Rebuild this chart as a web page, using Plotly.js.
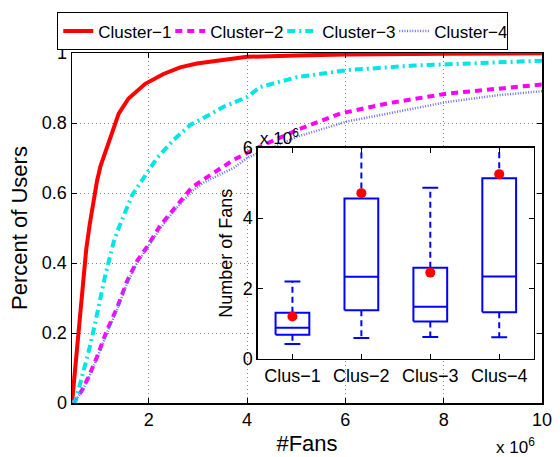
<!DOCTYPE html>
<html>
<head>
<meta charset="utf-8">
<script src="https://cdn.plot.ly/plotly-3.0.1.min.js"></script>
<style>html,body{margin:0;padding:0;background:#fff}#chart{width:560px;height:457px}</style>
</head>
<body>
<div id="chart"></div>
<script>
// ---------- Data (x in units of 10^6 fans) ----------
var seriesNames = ["Cluster\u22121", "Cluster\u22122", "Cluster\u22123", "Cluster\u22124"];

var c1x = [0.44, 0.49, 0.56, 0.65, 0.73, 0.80, 0.88, 0.95, 1.02, 1.19, 1.39, 1.59, 1.93, 2.3, 2.64, 2.98, 3.4, 3.73, 4.0, 5.0, 6.0, 8.0, 10.0];
var c1y = [0, 0.075, 0.21, 0.33, 0.44, 0.51, 0.58, 0.635, 0.677, 0.743, 0.827, 0.87, 0.912, 0.94, 0.959, 0.97, 0.978, 0.985, 0.989, 0.993, 0.996, 0.998, 0.999];

var c2x = [0.44, 0.49, 0.65, 0.78, 0.95, 1.15, 1.36, 1.56, 1.76, 1.97, 2.24, 2.51, 2.88, 3.12, 3.73, 4.27, 5.02, 5.9, 6.85, 8.07, 9.08, 10];
var c2y = [0, 0.005, 0.038, 0.075, 0.132, 0.207, 0.273, 0.348, 0.405, 0.447, 0.508, 0.555, 0.616, 0.639, 0.695, 0.733, 0.78, 0.827, 0.856, 0.884, 0.898, 0.91];

var c3x = [0.44, 0.51, 0.68, 0.82, 0.95, 1.12, 1.29, 1.39, 1.66, 1.97, 2.17, 2.51, 2.85, 3.05, 3.52, 4.0, 4.27, 5.02, 6.03, 7.39, 8.74, 10];
var c3y = [0, 0.005, 0.094, 0.17, 0.254, 0.367, 0.461, 0.50, 0.593, 0.658, 0.70, 0.752, 0.795, 0.809, 0.846, 0.874, 0.903, 0.931, 0.951, 0.964, 0.970, 0.978];

var c4x = [0.44, 0.49, 0.65, 0.78, 0.95, 1.15, 1.36, 1.56, 1.76, 1.97, 2.24, 2.51, 2.88, 3.12, 3.73, 4.0, 5.02, 6.03, 7.05, 8.07, 9.08, 10];
var c4y = [0, 0.004, 0.035, 0.072, 0.128, 0.2, 0.268, 0.342, 0.4, 0.442, 0.5, 0.548, 0.605, 0.63, 0.672, 0.70, 0.761, 0.804, 0.832, 0.86, 0.879, 0.891];

// Inset box plot (units of 10^6 fans)
var boxLabels = ["Clus\u22121", "Clus\u22122", "Clus\u22123", "Clus\u22124"];
var boxLower  = [0.42, 0.59, 0.62, 0.61];
var boxQ1     = [0.68, 1.38, 1.06, 1.32];
var boxMedian = [0.88, 2.33, 1.48, 2.34];
var boxQ3     = [1.31, 4.56, 2.59, 5.13];
var boxUpper  = [2.20, 7.5, 4.86, 7.5];
var boxMean   = [1.20, 4.71, 2.45, 5.25];

// ---------- Build ----------
var FONT = "Liberation Sans, Arial, Helvetica, sans-serif";
var styles = [
  {color: "#ff0000", width: 4, dash: "solid"},
  {color: "#ff00ff", width: 4, dash: "7px,5px"},
  {color: "#00e5e5", width: 4, dash: "8px,4px,2px,4px"},
  {color: "#6b6bff", width: 2.5, dash: "1px,1.6px"}
];
var xs = [c1x, c2x, c3x, c4x], ys = [c1y, c2y, c3y, c4y];
var traces = [];
for (var k = 0; k < 4; k++) {
  traces.push({type: "scatter", mode: "lines", x: xs[k], y: ys[k], name: seriesNames[k],
    line: styles[k], xaxis: "x", yaxis: "y", cliponaxis: true});
}

var halfW = 0.245, capW = 0.115;
var bx = [], by = [], wx = [], wy = [], cx = [], cy = [], pos = [];
for (var i = 0; i < boxLabels.length; i++) {
  var p = i + 1; pos.push(p);
  bx.push(p - halfW, p + halfW, p + halfW, p - halfW, p - halfW, null, p - halfW, p + halfW, null);
  by.push(boxQ1[i], boxQ1[i], boxQ3[i], boxQ3[i], boxQ1[i], null, boxMedian[i], boxMedian[i], null);
  wx.push(p, p, null, p, p, null);
  wy.push(boxQ3[i], boxUpper[i], null, boxQ1[i], boxLower[i], null);
  cx.push(p - capW, p + capW, null, p - capW, p + capW, null);
  cy.push(boxLower[i], boxLower[i], null, boxUpper[i], boxUpper[i], null);
}
traces.push({type: "scatter", mode: "lines", x: wx, y: wy, xaxis: "x2", yaxis: "y2", showlegend: false,
  line: {color: "#0000ff", width: 2, dash: "6px,4px"}, hoverinfo: "skip"});
traces.push({type: "scatter", mode: "lines", x: cx, y: cy, xaxis: "x2", yaxis: "y2", showlegend: false,
  line: {color: "#0000ff", width: 2}, hoverinfo: "skip"});
traces.push({type: "scatter", mode: "lines", x: bx, y: by, xaxis: "x2", yaxis: "y2", showlegend: false,
  line: {color: "#0000ff", width: 2}, hoverinfo: "skip"});
traces.push({type: "scatter", mode: "markers", x: pos, y: boxMean, xaxis: "x2", yaxis: "y2", showlegend: false,
  marker: {color: "#ff0000", size: 10}});

var layout = {
  width: 560, height: 457,
  margin: {l: 72, r: 18, t: 49, b: 53.5},
  paper_bgcolor: "#ffffff", plot_bgcolor: "#ffffff",
  font: {family: FONT, size: 18, color: "#000"},
  showlegend: true,
  legend: {orientation: "h", x: -0.032, y: 1.117, xanchor: "left", yanchor: "top",
    bordercolor: "#000", borderwidth: 1.3, bgcolor: "#fff", font: {family: FONT, size: 17},
    tracegroupgap: 0, itemwidth: 30, entrywidth: 67, entrywidthmode: "pixels"},
  xaxis: {domain: [0, 1], range: [0.44, 10], tickvals: [2, 4, 6, 8, 10], ticktext: ["2", "4", "6", "8", "10"],
    ticks: "inside", ticklen: 5, tickcolor: "#000", showline: true, linecolor: "#000", linewidth: 1.5, mirror: "ticks",
    showgrid: true, gridcolor: "#8a8a8a", griddash: "1px,3px", gridwidth: 1, zeroline: false,
    title: {text: "#Fans", font: {size: 22}, standoff: 6}, tickfont: {size: 18}},
  yaxis: {domain: [0, 1], range: [0, 1], tickvals: [0, 0.2, 0.4, 0.6, 0.8, 1], ticktext: ["0", "0.2", "0.4", "0.6", "0.8", "1"],
    ticks: "inside", ticklen: 5, tickcolor: "#000", showline: true, linecolor: "#000", linewidth: 1.5, mirror: "ticks",
    showgrid: true, gridcolor: "#8a8a8a", griddash: "1px,3px", gridwidth: 1, zeroline: false,
    title: {text: "Percent of Users", font: {size: 22}, standoff: 8}, tickfont: {size: 18}},
  xaxis2: {domain: [0.3957, 0.9823], anchor: "y2", range: [0.5, 4.5], tickvals: pos, ticktext: boxLabels,
    ticks: "inside", ticklen: 5, tickcolor: "#000", showline: true, linecolor: "#000", linewidth: 1.5, mirror: "ticks",
    showgrid: false, zeroline: false, tickfont: {size: 18}},
  yaxis2: {domain: [0.1264, 0.7292], anchor: "x2", range: [0, 6], tickvals: [0, 2, 4, 6], ticktext: ["0", "2", "4", "6"],
    ticks: "inside", ticklen: 5, tickcolor: "#000", showline: true, linecolor: "#000", linewidth: 1.5, mirror: "ticks",
    showgrid: false, zeroline: false, tickfont: {size: 18},
    title: {text: "Number of Fans", font: {size: 18}, standoff: 5}},
  annotations: [
    {xref: "paper", yref: "paper", x: 0.99, y: -0.086, xanchor: "right", yanchor: "top", showarrow: false,
     text: "x 10<sup>6</sup>", font: {family: FONT, size: 17}},
    {xref: "x2 domain", yref: "y2 domain", x: 0.0, y: 1.0, xanchor: "left", yanchor: "bottom", showarrow: false,
     text: "x 10<sup>6</sup>", font: {family: FONT, size: 17}, yshift: -2}
  ]
};

Plotly.newPlot("chart", traces, layout, {displayModeBar: false, staticPlot: true});
</script>
</body>
</html>
